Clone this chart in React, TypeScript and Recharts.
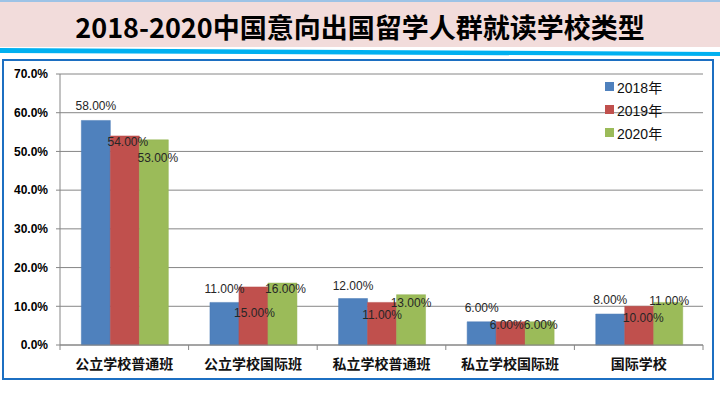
import React from 'react';
import { BarChart, Bar, XAxis, YAxis, CartesianGrid, Legend, LabelList } from 'recharts';

const categories = ['公立学校普通班', '公立学校国际班', '私立学校普通班', '私立学校国际班', '国际学校'];
const series2018 = [58, 11, 12, 6, 8];
const series2019 = [54, 15, 11, 6, 10];
const series2020 = [53, 16, 13, 6, 11];
const seriesNames = ['2018年', '2019年', '2020年'];
const seriesColors = ['#4f81bd', '#c0504d', '#9bbb59'];
const yTicks = [0, 10, 20, 30, 40, 50, 60, 70];
const title = '2018-2020中国意向出国留学人群就读学校类型';

// label nudges (style only, relative to bar top)
const nudge2018 = [[0, -14], [0, -13], [0, -13], [0, -14], [0, -14]];
const nudge2019 = [[3, 6], [1, 26], [0, 13], [-4, 3], [4, 12]];
const nudge2020 = [[4, 18], [3, 6], [0, 8], [1, 3], [1, -1]];

const data = categories.map((c, i) => ({
  name: c,
  y2018: series2018[i],
  y2019: series2019[i],
  y2020: series2020[i],
}));

const makeLabel = (nudges: number[][]) => (props: any) => {
  const { x, y, width, value, index } = props;
  const n = nudges[index] || [0, 0];
  return (
    <text
      x={Number(x) + Number(width) / 2 + n[0]}
      y={Number(y) + n[1]}
      textAnchor="middle"
      dominantBaseline="central"
      fontSize={12}
      fill="#262626"
      fontFamily="'Liberation Sans', Arial, sans-serif"
    >
      {Number(value).toFixed(2)}%
    </text>
  );
};

const XTick = (props: any) => {
  const { x, y, payload, index, width } = props;
  const band = Number(width || 643) / categories.length;
  const left = Number(x) - band / 2;
  const right = Number(x) + band / 2;
  return (
    <g>
      <line x1={left} x2={left} y1={y} y2={y + 5} stroke="#868686" />
      {index === categories.length - 1 && (
        <line x1={right} x2={right} y1={y} y2={y + 5} stroke="#868686" />
      )}
      <text
        x={x}
        y={y + 18}
        textAnchor="middle"
        dominantBaseline="central"
        fontSize={14}
        fontWeight="bold"
        fill="#111"
        fontFamily="'Noto Sans CJK SC', sans-serif"
      >
        {payload.value}
      </text>
    </g>
  );
};

const LegendContent = () => (
  <div style={{ fontFamily: "'Liberation Sans', 'Noto Sans CJK SC', sans-serif", fontSize: 14, color: '#111' }}>
    {seriesNames.map((s, i) => (
      <div key={s} style={{ display: 'flex', alignItems: 'center', height: 23 }}>
        <span style={{ width: 9, height: 9, background: seriesColors[i], marginRight: 3, display: 'inline-block' }} />
        <span>{s}</span>
      </div>
    ))}
  </div>
);

export default function App() {
  return (
    <div style={{ position: 'absolute', left: 0, top: 0, width: 720, height: 398, background: '#fff', overflow: 'hidden' }}>
      {/* header band */}
      <div style={{ position: 'absolute', left: 0, top: 0, width: 720, height: 2, background: '#9dc3e6' }} />
      <div style={{ position: 'absolute', left: 0, top: 2, width: 720, height: 45, background: '#f2dcdb' }} />
      <svg style={{ position: 'absolute', left: 0, top: 0 }} width={720} height={60}>
        <polygon points="0,48 720,52 720,56 0,53" fill="#00b0f0" />
      </svg>
      <div
        style={{
          position: 'absolute',
          left: 0,
          top: 9,
          width: 720,
          textAlign: 'center',
          fontFamily: "'Noto Sans CJK SC', sans-serif",
          fontWeight: 'bold',
          fontSize: 27,
          lineHeight: '36px',
          color: '#000',
        }}
      >
        {title}
      </div>
      {/* chart frame */}
      <div
        style={{
          position: 'absolute',
          left: 2,
          top: 59,
          width: 712,
          height: 321,
          boxSizing: 'border-box',
          border: '2.5px solid #1c6fc2',
        }}
      />
      <div style={{ position: 'absolute', left: 0, top: 0 }}>
        <BarChart
          width={720}
          height={398}
          data={data}
          margin={{ top: 74, right: 17, left: 10, bottom: 23 }}
          barCategoryGap="16.6%"
          barGap={0}
        >
          <CartesianGrid vertical={false} stroke="#868686" />
          <XAxis
            dataKey="name"
            height={30}
            axisLine={{ stroke: '#868686' }}
            tickLine={false}
            tickSize={0}
            tickMargin={0}
            tick={<XTick />}
            interval={0}
          />
          <YAxis
            width={50}
            domain={[0, 70]}
            ticks={yTicks}
            interval={0}
            axisLine={{ stroke: '#868686' }}
            tickLine={{ stroke: '#868686' }}
            tickSize={4}
            tickMargin={8}
            tickFormatter={(v: number) => `${v.toFixed(1)}%`}
            tick={{ fontSize: 12, fontWeight: 'bold', fill: '#000', fontFamily: "'Liberation Sans', Arial, sans-serif" }}
          />
          <Legend
            layout="horizontal"
            verticalAlign="middle"
            align="center"
            content={<LegendContent />}
            wrapperStyle={{ position: 'absolute', left: 605, top: 75, width: 80, height: 70 }}
          />
          <Bar dataKey="y2018" name={seriesNames[0]} fill={seriesColors[0]} stroke="#4a7ab4" strokeWidth={0.5} isAnimationActive={false}>
            <LabelList dataKey="y2018" content={makeLabel(nudge2018)} />
          </Bar>
          <Bar dataKey="y2019" name={seriesNames[1]} fill={seriesColors[1]} stroke="#b84b48" strokeWidth={0.5} isAnimationActive={false}>
            <LabelList dataKey="y2019" content={makeLabel(nudge2019)} />
          </Bar>
          <Bar dataKey="y2020" name={seriesNames[2]} fill={seriesColors[2]} stroke="#93b254" strokeWidth={0.5} isAnimationActive={false}>
            <LabelList dataKey="y2020" content={makeLabel(nudge2020)} />
          </Bar>
        </BarChart>
      </div>
    </div>
  );
}
